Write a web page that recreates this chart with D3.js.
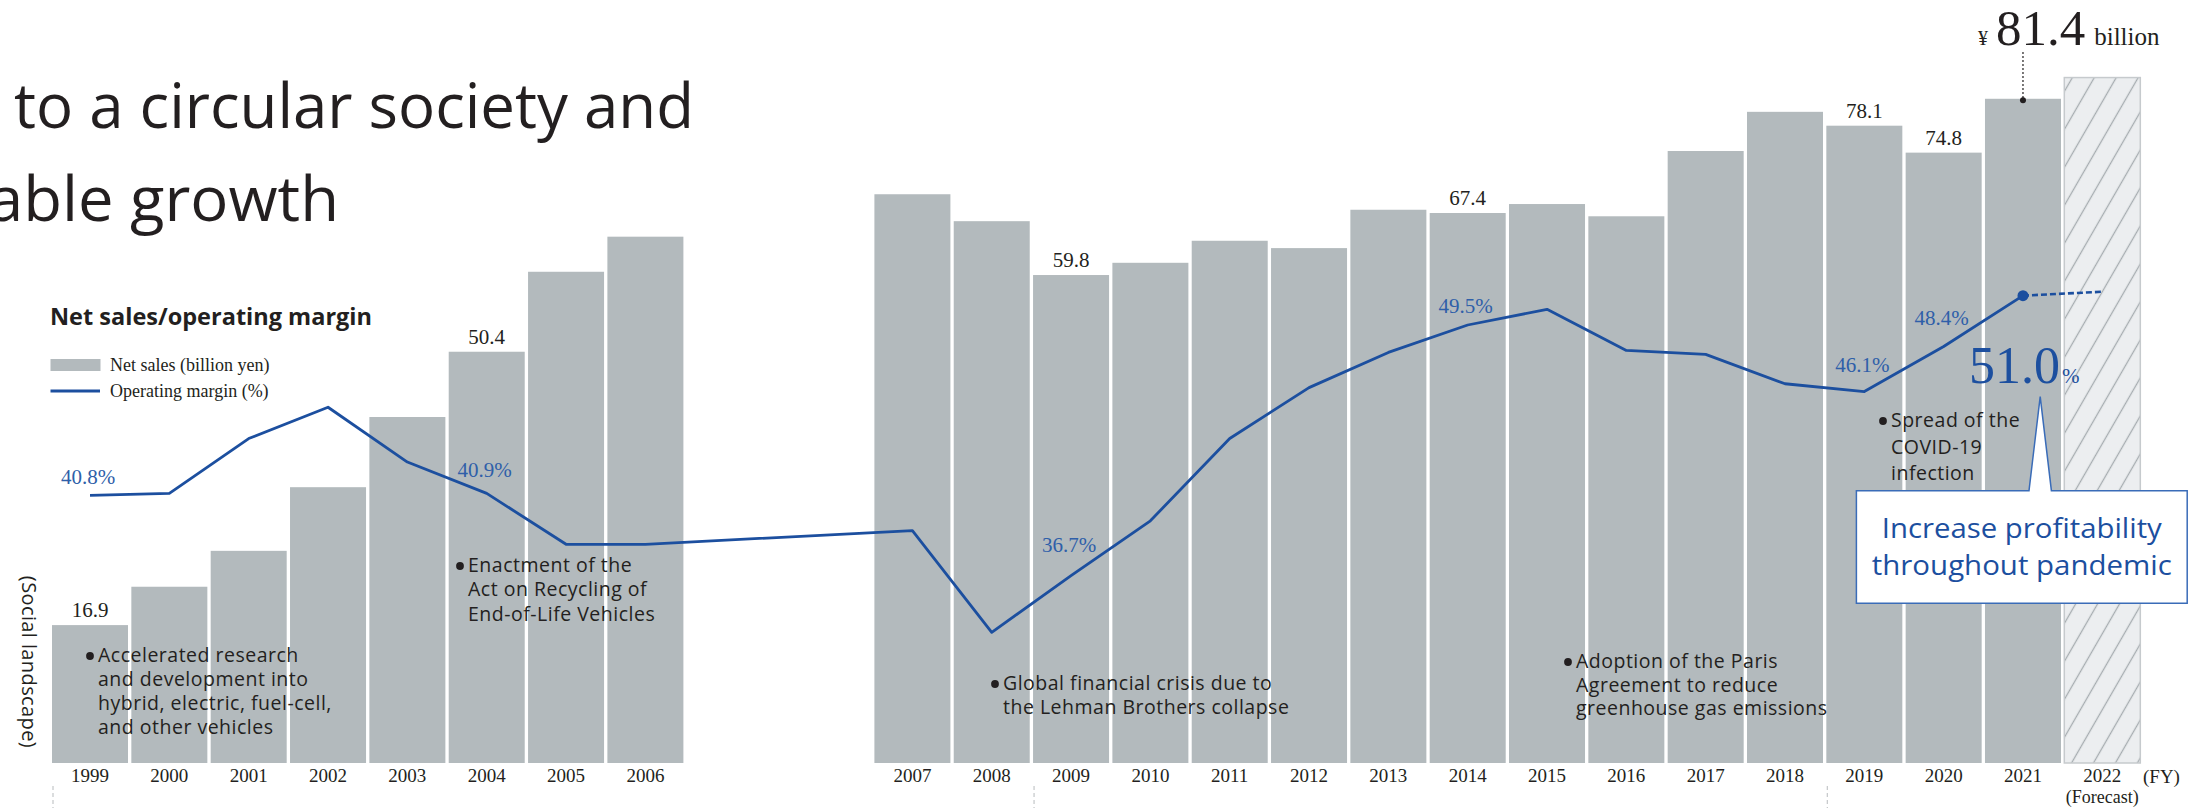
<!DOCTYPE html>
<html>
<head>
<meta charset="utf-8">
<script src="https://cdn.jsdelivr.net/npm/d3@7"></script>
<style>
body { margin: 0; background: #fff; }
svg { display: block; }
</style>
</head>
<body>
<div id="chart-area"></div>
<script>
// fiscal years, net sales (billion yen), operating margin (%)
var years = [1999, 2000, 2001, 2002, 2003, 2004, 2005, 2006, 2007, 2008, 2009, 2010,
  2011, 2012, 2013, 2014, 2015, 2016, 2017, 2018, 2019, 2020, 2021, 2022];
var netSales = [16.9, 21.6, 26.0, 33.8, 42.4, 50.4, 60.2, 64.5, 69.7, 66.4, 59.8, 61.3,
  64.0, 63.1, 67.8, 67.4, 68.5, 67.0, 75.0, 79.8, 78.1, 74.8, 81.4, 84.0];
var opMargin = [40.8, 40.9, 43.7, 45.3, 42.5, 40.9, 38.3, 38.3, 39.0, 33.8, 36.7, 39.5,
  43.7, 46.3, 48.1, 49.5, 50.3, 48.2, 48.0, 46.5, 46.1, 48.4, 51.0, 51.2];
var salesLabelYears = [1999, 2004, 2009, 2014, 2019, 2020];
var marginLabelYears = [1999, 2004, 2009, 2014, 2019, 2020];
var forecastYear = 2022;
var highlightYear = 2021;
var decadeYears = [1999, 2009, 2019];

var events = [
  { lines: ["Accelerated research", "and development into", "hybrid, electric, fuel-cell,", "and other vehicles"] },
  { lines: ["Enactment of the", "Act on Recycling of", "End-of-Life Vehicles"] },
  { lines: ["Global financial crisis due to", "the Lehman Brothers collapse"] },
  { lines: ["Adoption of the Paris", "Agreement to reduce", "greenhouse gas emissions"] },
  { lines: ["Spread of the", "COVID-19", "infection"] }
];
// where each event note sits (bullet x, first baseline, line step)
var eventPos = [[90, 662, 24], [460, 572, 24.4], [995, 690, 23.5], [1568, 668, 23.5], [1883, 427, 26.6]];
var marginLabelDy = { 1999: -11, 2004: -16, 2009: -24, 2014: -12, 2019: -20, 2020: -22 };

var W = 2203, H = 808;
var barColor = "#b3babd", lineColor = "#1c4f9f", labelBlue = "#2f5fa9", ink = "#231f20";
var sans = "'Open Sans', 'Noto Sans', sans-serif";
var serif = "'Liberation Serif', 'DejaVu Serif', serif";

var svg = d3.select("#chart-area").append("svg")
  .attr("width", W)
  .attr("height", H);

var data = years.map(function(d, i) { return { year: d, sales: netSales[i], margin: opMargin[i] }; });

var leftYears = years.filter(function(d) { return d <= 2006; });
var rightYears = years.filter(function(d) { return d >= 2007; });

var xLeft = d3.scaleBand().domain(leftYears).range([52, 683.4]).paddingInner(0.042).paddingOuter(0);
var xRight = d3.scaleBand().domain(rightYears).range([874.4, 2140.3]).paddingInner(0.042).paddingOuter(0);
function xBand(yr) { return yr <= 2006 ? xLeft(yr) : xRight(yr); }
function xMid(yr) { return xBand(yr) + xLeft.bandwidth() / 2; }

var baseY = 763;
var y = d3.scaleLinear().domain([0, 80]).range([baseY, baseY - 80 * 8.16]);
var y2 = d3.scaleLinear().domain([36.7, 49.5]).range([575.6, 325]);

// hatch for forecast
var defs = svg.append("defs");
var pat = defs.append("pattern")
  .attr("id", "hatch")
  .attr("patternUnits", "userSpaceOnUse")
  .attr("width", 19).attr("height", 19)
  .attr("patternTransform", "rotate(30)");
pat.append("rect").attr("width", 19).attr("height", 19).attr("fill", "#eceef0");
pat.append("line").attr("x1", 9.5).attr("y1", 0).attr("x2", 9.5).attr("y2", 19)
  .attr("stroke", "#a6acb0").attr("stroke-width", 1.3);

// title (cut at the left edge)
svg.append("text").attr("x", 14).attr("y", 128)
  .attr("font-family", sans).attr("font-size", 62).attr("fill", ink)
  .attr("textLength", 680).attr("lengthAdjust", "spacingAndGlyphs")
  .text("to a circular society and");
svg.append("text").attr("x", -12).attr("y", 221)
  .attr("font-family", sans).attr("font-size", 62).attr("fill", ink)
  .attr("textLength", 351).attr("lengthAdjust", "spacingAndGlyphs")
  .text("able growth");

// bars
svg.selectAll("rect.bar")
  .data(data)
  .enter()
  .append("rect")
  .attr("class", "bar")
  .attr("x", function(d) { return xBand(d.year); })
  .attr("y", function(d) { return y(d.sales); })
  .attr("width", xLeft.bandwidth())
  .attr("height", function(d) { return baseY - y(d.sales); })
  .attr("fill", function(d) { return d.year === forecastYear ? "url(#hatch)" : barColor; })
  .attr("stroke", function(d) { return d.year === forecastYear ? "#c6cacd" : "none"; })
  .attr("stroke-width", 1.5);

// chart heading + legend
svg.append("text").attr("x", 50).attr("y", 325)
  .attr("font-family", sans).attr("font-size", 24).attr("font-weight", "bold").attr("fill", ink)
  .attr("textLength", 322).attr("lengthAdjust", "spacingAndGlyphs")
  .text("Net sales/operating margin");
svg.append("rect").attr("x", 50.5).attr("y", 359).attr("width", 50).attr("height", 12).attr("fill", barColor);
svg.append("text").attr("x", 110).attr("y", 371)
  .attr("font-family", serif).attr("font-size", 18).attr("fill", ink)
  .text("Net sales (billion yen)");
svg.append("line").attr("x1", 50.5).attr("x2", 100).attr("y1", 391).attr("y2", 391)
  .attr("stroke", lineColor).attr("stroke-width", 3);
svg.append("text").attr("x", 110).attr("y", 397)
  .attr("font-family", serif).attr("font-size", 18).attr("fill", ink)
  .text("Operating margin (%)");

// event notes
events.forEach(function(ev, i) {
  var p = eventPos[i];
  svg.append("circle").attr("cx", p[0]).attr("cy", p[1] - 6).attr("r", 3.9).attr("fill", ink);
  var t = svg.append("text")
    .attr("font-family", sans).attr("font-size", 19.5).attr("letter-spacing", 0.5).attr("fill", ink);
  ev.lines.forEach(function(line, j) {
    t.append("tspan").attr("x", p[0] + 8).attr("y", p[1] + j * p[2]).text(line);
  });
});

// social landscape label
svg.append("text")
  .attr("transform", "translate(22,662) rotate(90)")
  .attr("text-anchor", "middle")
  .attr("font-family", sans).attr("font-size", 20).attr("letter-spacing", 0.4).attr("fill", ink)
  .text("(Social landscape)");

// operating margin line
var actual = data.filter(function(d) { return d.year <= highlightYear; });
var proj = data.filter(function(d) { return d.year >= highlightYear; });
var line = d3.line()
  .x(function(d) { return xMid(d.year); })
  .y(function(d) { return y2(d.margin); });
svg.append("path").datum(actual)
  .attr("d", line).attr("fill", "none")
  .attr("stroke", lineColor).attr("stroke-width", 2.8).attr("stroke-linejoin", "round");
svg.append("path").datum(proj)
  .attr("d", line).attr("fill", "none")
  .attr("stroke", lineColor).attr("stroke-width", 2.6).attr("stroke-dasharray", "6,3");
var hl = data.filter(function(d) { return d.year === highlightYear; })[0];
svg.append("circle").attr("cx", xMid(hl.year)).attr("cy", y2(hl.margin)).attr("r", 5.5).attr("fill", lineColor);

// value labels on bars
svg.selectAll("text.salesLbl")
  .data(data.filter(function(d) { return salesLabelYears.indexOf(d.year) >= 0; }))
  .enter().append("text")
  .attr("class", "salesLbl")
  .attr("x", function(d) { return xMid(d.year); })
  .attr("y", function(d) { return y(d.sales) - 8; })
  .attr("text-anchor", "middle")
  .attr("font-family", serif).attr("font-size", 21).attr("fill", ink)
  .text(function(d) { return d.sales.toFixed(1); });

svg.selectAll("text.marginLbl")
  .data(data.filter(function(d) { return marginLabelYears.indexOf(d.year) >= 0; }))
  .enter().append("text")
  .attr("class", "marginLbl")
  .attr("x", function(d) { return xMid(d.year) - 2; })
  .attr("y", function(d) { return y2(d.margin) + marginLabelDy[d.year]; })
  .attr("text-anchor", "middle")
  .attr("font-family", serif).attr("font-size", 21).attr("fill", labelBlue)
  .text(function(d) { return d.margin.toFixed(1) + "%"; });

// 2021 headline values
var hx = xMid(hl.year);
svg.append("line").attr("x1", hx).attr("x2", hx).attr("y1", 52).attr("y2", y(hl.sales))
  .attr("stroke", ink).attr("stroke-width", 1.2).attr("stroke-dasharray", "2,2");
svg.append("circle").attr("cx", hx).attr("cy", y(hl.sales) + 1.5).attr("r", 3).attr("fill", ink);
var big = svg.append("text").attr("x", hx - 45).attr("y", 45)
  .attr("font-family", serif).attr("fill", ink);
big.append("tspan").attr("font-size", 20).text("¥");
big.append("tspan").attr("dx", 8).attr("font-size", 51).text(hl.sales.toFixed(1));
big.append("tspan").attr("dx", 9).attr("font-size", 25).text("billion");

var bigM = svg.append("text").attr("x", hx - 54).attr("y", 383)
  .attr("font-family", serif).attr("fill", lineColor);
bigM.append("tspan").attr("font-size", 52).text(hl.margin.toFixed(1));
bigM.append("tspan").attr("dx", 2).attr("font-size", 21).text("%");

// callout box
var bx0 = 1856.4, bx1 = 2187.2, by0 = 490.7, by1 = 603.3;
svg.append("path")
  .attr("d", "M" + bx0 + "," + by0 + "H2029L2040.2,396.7L2051.4," + by0 + "H" + bx1 + "V" + by1 + "H" + bx0 + "Z")
  .attr("fill", "#fff").attr("stroke", "#3a6cb8").attr("stroke-width", 1.5);
svg.append("text").attr("x", (bx0 + bx1) / 2).attr("y", 538)
  .attr("text-anchor", "middle").attr("font-family", sans).attr("font-size", 27).attr("fill", lineColor)
  .attr("textLength", 280).attr("lengthAdjust", "spacingAndGlyphs")
  .text("Increase profitability");
svg.append("text").attr("x", (bx0 + bx1) / 2).attr("y", 575)
  .attr("text-anchor", "middle").attr("font-family", sans).attr("font-size", 27).attr("fill", lineColor)
  .attr("textLength", 300).attr("lengthAdjust", "spacingAndGlyphs")
  .text("throughout pandemic");

// year axes
[xLeft, xRight].forEach(function(sc) {
  var g = svg.append("g")
    .attr("transform", "translate(0," + baseY + ")")
    .call(d3.axisBottom(sc).tickSize(0).tickPadding(5.5));
  g.select(".domain").remove();
  g.selectAll("text").attr("font-family", serif).attr("font-size", 19).attr("fill", ink);
});
svg.append("text").attr("x", 2143).attr("y", 783)
  .attr("font-family", serif).attr("font-size", 19).attr("fill", ink).text("(FY)");
svg.append("text").attr("x", xMid(forecastYear)).attr("y", 803)
  .attr("text-anchor", "middle").attr("font-family", serif).attr("font-size", 18).attr("fill", ink)
  .text("(Forecast)");

// decade markers below axis
svg.selectAll("line.decade")
  .data(decadeYears)
  .enter().append("line")
  .attr("class", "decade")
  .attr("x1", function(d) { return xBand(d) + 1; })
  .attr("x2", function(d) { return xBand(d) + 1; })
  .attr("y1", 786).attr("y2", 808)
  .attr("stroke", "#c4c7c9").attr("stroke-width", 1.2).attr("stroke-dasharray", "4,3");
</script>
</body>
</html>
